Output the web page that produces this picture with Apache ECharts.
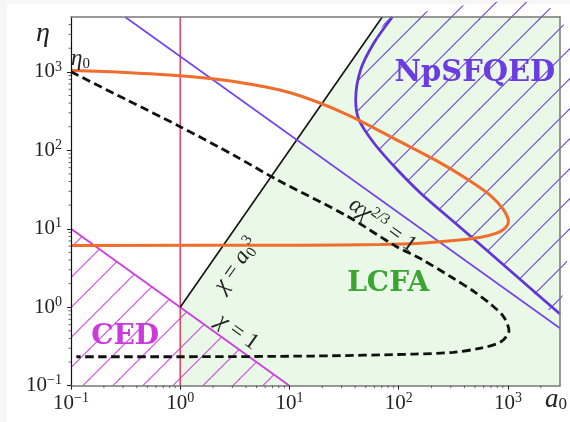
<!DOCTYPE html>
<html>
<head>
<meta charset="utf-8">
<script src="https://cdn.jsdelivr.net/npm/echarts@6/dist/echarts.min.js"></script>
<style>
  html, body { margin: 0; padding: 0; background: #f6f6f6; }
  #chart { width: 570px; height: 422px; }
</style>
</head>
<body>
<div id="chart"></div>
<script>
// Parameter plane: laser strength a0 (horizontal) versus electron energy eta (vertical), both logarithmic.
const xRange = [0.1, 3000];
const yRange = [0.1, 5000];
const majorTicks = [0.1, 1, 10, 100, 1000];

// Straight boundaries
const unitA0Line = [[1, 0.1], [1, 5000]];            // a0 = 1
const chiOneLine = [[0.1, 10], [10, 0.1]];           // chi = 1
const chiCubeLine = [[1, 1], [70.7, 5000]];          // chi = a0^3
const alphaChiLine = [[0.313, 5000], [3000, 0.54]];  // alpha chi^(2/3) = 1

// Filled regions
const lcfaRegion = [[1, 0.1], [1, 1], [70.7, 5000], [3000, 5000], [3000, 0.1]];
const cedRegion = [[0.1, 0.1], [0.1, 10], [10, 0.1]];
const npsfqedEdge = [
  [87.5, 5000], [59.3, 2330], [44.8, 1060], [40.4, 441], [43.3, 245],
  [59.3, 124], [97.2, 56.4], [159, 28.4], [321, 12.2], [652, 5.2],
  [1315, 2.22], [3000, 0.82]
];
const npsfqedRegion = npsfqedEdge.concat([[3000, 5000]]);

// Particle trajectories through the plane
const orangeTrack = [
  [0.1, 1042], [0.313, 982], [1, 891], [3.2, 748], [10.2, 541], [32.6, 292],
  [104, 128], [243, 68.7], [458, 40], [698, 26.3], [900, 17.9], [1011, 12.4],
  [925, 9.97], [776, 8.74], [565, 7.81], [321, 7.07], [159, 6.55], [68.4, 6.31],
  [12.6, 6.18], [0.1, 6.14]
];
const dashedTrack = [
  [0.1, 1000], [0.316, 447], [1, 200], [3.16, 85.1], [7.71, 42.1], [33.8, 14.5],
  [93.3, 6.03], [158, 4.17], [316, 2.34], [501, 1.55], [708, 1.07], [912, 0.759],
  [1023, 0.5], [863, 0.363], [565, 0.302], [316, 0.266], [138, 0.253],
  [16.7, 0.239], [1, 0.234], [0.112, 0.234]
];

// Text shown on the plot
const regionNames = ['CED', 'LCFA', 'NpSFQED'];
const curveNames = ['{i|\u03c7} = {i|a}{sub|0}{sup|3}', '{i|\u03c7} = 1', '{i|\u03b1\u03c7}{sup|2/3} = 1'];
const startName = '{i|\u03b7}{sub|0}';

const SERIF = 'Liberation Serif';
const HEAVY_SERIF = 'DejaVu Serif';

function hatchPattern(color) {
  const c = document.createElement('canvas');
  c.width = 30; c.height = 30;
  const g = c.getContext('2d');
  g.strokeStyle = color;
  g.lineWidth = 1.1;
  [18.5, 48.5].forEach(function (k) {
    g.beginPath();
    g.moveTo(k + 5, -5);
    g.lineTo(k - 35, 35);
    g.stroke();
  });
  return { image: c, repeat: 'repeat' };
}

function polygonSeries(points, fill, z, smooth) {
  return {
    type: 'custom', coordinateSystem: 'cartesian2d', z: z, silent: true,
    data: [[1, 1]],
    renderItem: function (params, api) {
      return {
        type: 'polygon',
        shape: { points: points.map(function (p) { return api.coord(p); }), smooth: smooth || 0 },
        style: { fill: fill, stroke: null }
      };
    }
  };
}

function lineSeries(data, color, width, z, extra) {
  return Object.assign({
    type: 'line', data: data, z: z, symbol: 'none', silent: true, animation: false,
    lineStyle: { color: color, width: width }
  }, extra || {});
}

// log-spaced minor ticks between the labelled decades
function minorTicksUpTo(limit) {
  const out = [];
  majorTicks.forEach(function (t) {
    for (let k = 2; k <= 9; k++) { if (t * k < limit) out.push(t * k); }
  });
  return out;
}

function minorTickSeries(horizontal) {
  const vals = minorTicksUpTo(horizontal ? xRange[1] : yRange[1]);
  return {
    type: 'custom', coordinateSystem: 'cartesian2d', z: 20, silent: true, clip: false,
    data: vals.map(function (v) { return horizontal ? [v, yRange[0]] : [xRange[0], v]; }),
    renderItem: function (params, api) {
      const p = api.coord([api.value(0), api.value(1)]);
      const shape = horizontal
        ? { x1: p[0], y1: p[1], x2: p[0], y2: p[1] + 2.5 }
        : { x1: p[0], y1: p[1], x2: p[0] - 2.5, y2: p[1] };
      return { type: 'line', shape: shape, style: { stroke: '#444', lineWidth: 0.8 } };
    }
  };
}

function expLabel(v) {
  const e = Math.log10(v);
  const r = Math.round(e);
  if (Math.abs(e - r) > 1e-6) return '';
  return '{b|10}{s|' + (r < 0 ? '\u2212' + (-r) : r) + '}';
}

const tickRich = {
  b: { fontSize: 21, lineHeight: 24, fontFamily: SERIF, color: '#222' },
  s: { fontSize: 14, lineHeight: 14, verticalAlign: 'top', fontFamily: SERIF, color: '#222' }
};

const mathRich = {
  i: { fontStyle: 'italic', fontFamily: SERIF, fontSize: 23, lineHeight: 26, color: '#222' },
  sub: { fontFamily: SERIF, fontSize: 15, lineHeight: 15, verticalAlign: 'bottom', color: '#222' },
  sup: { fontFamily: SERIF, fontSize: 15, lineHeight: 15, verticalAlign: 'top', color: '#222' }
};

function tickLabel(margin) {
  return {
    formatter: expLabel, rich: tickRich, showMaxLabel: false, margin: margin,
    fontFamily: SERIF, fontSize: 21, color: '#222'
  };
}

function axisCommon(extra) {
  return Object.assign({
    type: 'log', logBase: 10, z: 10,
    splitLine: { show: false },
    axisTick: { show: true, length: 4, lineStyle: { color: '#222', width: 1 } },
    axisLabel: tickLabel(8),
    axisLine: { show: true, lineStyle: { color: '#777', width: 1.5 } }
  }, extra);
}

function mathLabel(text, rotate) {
  return {
    formatter: text, rotate: rotate || 0, rich: mathRich, fontFamily: SERIF, fontSize: 23,
    color: '#222', textBorderWidth: 0
  };
}

function regionLabel(text, color, size) {
  return {
    formatter: text, color: color, fontSize: size, fontWeight: 'bold', fontFamily: HEAVY_SERIF,
    textBorderWidth: 0, textBorderColor: 'transparent'
  };
}

const annotations = [
  { value: [0.313, 0.424], label: regionLabel(regionNames[0], '#cc3ade', 28) },
  { value: [80.1, 2.02], label: regionLabel(regionNames[1], '#3aa531', 28) },
  { value: [498, 966], label: regionLabel(regionNames[2], '#6a3ce2', 29) },
  { value: [3.26, 3.44], label: mathLabel(curveNames[0], 55) },
  { value: [3.33, 0.484], label: mathLabel(curveNames[1], -35.7) },
  { value: [71.3, 11.2], label: mathLabel(curveNames[2], -35.7) },
  { value: [0.1, 1000], label: Object.assign(mathLabel(startName), { align: 'left', offset: [0, -13] }) }
];

const chart = echarts.init(document.getElementById('chart'), null, { renderer: 'canvas' });

chart.setOption({
  animation: false,
  backgroundColor: '#f6f6f6',
  graphic: [{
    type: 'rect', z: -10, silent: true,
    shape: { x: 7, y: 4, width: 563, height: 418 },
    style: { fill: '#ffffff' }
  }],
  grid: { left: 71, right: 10, top: 17, bottom: 36.3, containLabel: false },
  xAxis: [
    axisCommon({
      min: xRange[0], max: xRange[1], position: 'bottom',
      axisLabel: tickLabel(6),
      name: '{i|a}{sub|0}', nameLocation: 'end', nameGap: -15,
      nameTextStyle: {
        align: 'left', verticalAlign: 'top', padding: [1, 0, 0, 0],
        fontFamily: SERIF, fontSize: 26,
        rich: {
          i: { fontStyle: 'italic', fontFamily: SERIF, fontSize: 27, lineHeight: 26, color: '#222' },
          sub: { fontFamily: SERIF, fontSize: 17, lineHeight: 16, verticalAlign: 'bottom', color: '#222' }
        }
      }
    }),
    axisCommon({
      min: xRange[0], max: xRange[1], position: 'top',
      axisTick: { show: false }, axisLabel: { show: false }
    })
  ],
  yAxis: [
    axisCommon({
      min: yRange[0], max: yRange[1], position: 'left',
      axisLine: { show: true, lineStyle: { color: '#111', width: 1.2 } },
      axisLabel: tickLabel(9),
      name: '{i|\u03b7}', nameLocation: 'end', nameGap: -17,
      nameTextStyle: {
        align: 'right', verticalAlign: 'middle', padding: [0, 21, 0, 0],
        fontFamily: SERIF, fontSize: 28,
        rich: { i: { fontStyle: 'italic', fontFamily: SERIF, fontSize: 28, lineHeight: 28, color: '#222' } }
      }
    }),
    axisCommon({
      min: yRange[0], max: yRange[1], position: 'right',
      axisTick: { show: false }, axisLabel: { show: false }
    })
  ],
  series: [
    polygonSeries(lcfaRegion, '#eaf8e7', 1),
    polygonSeries(cedRegion, hatchPattern('#d047e4'), 2),
    polygonSeries(npsfqedRegion, hatchPattern('#6841e0'), 2, 0.3),
    lineSeries(unitA0Line, '#e43d62', 1.5, 3),
    lineSeries(chiOneLine, '#cc42de', 2, 3),
    lineSeries(chiCubeLine, '#111111', 1.6, 3),
    lineSeries(alphaChiLine, '#7442ee', 1.6, 3),
    lineSeries(npsfqedEdge, '#6235dc', 2.8, 4, { smooth: 0.3 }),
    lineSeries(orangeTrack, '#ef6d2d', 3, 5, { smooth: 0.3 }),
    lineSeries(dashedTrack, '#111111', 2.8, 6, { smooth: 0.3, lineStyle: { color: '#111111', width: 2.8, type: [8.5, 4.5] } }),
    minorTickSeries(true),
    minorTickSeries(false),
    {
      type: 'scatter', z: 8, silent: true, symbolSize: 0,
      itemStyle: { color: 'transparent', opacity: 1 },
      data: annotations,
      label: { show: true, position: 'inside' }
    }
  ]
});
</script>
</body>
</html>
